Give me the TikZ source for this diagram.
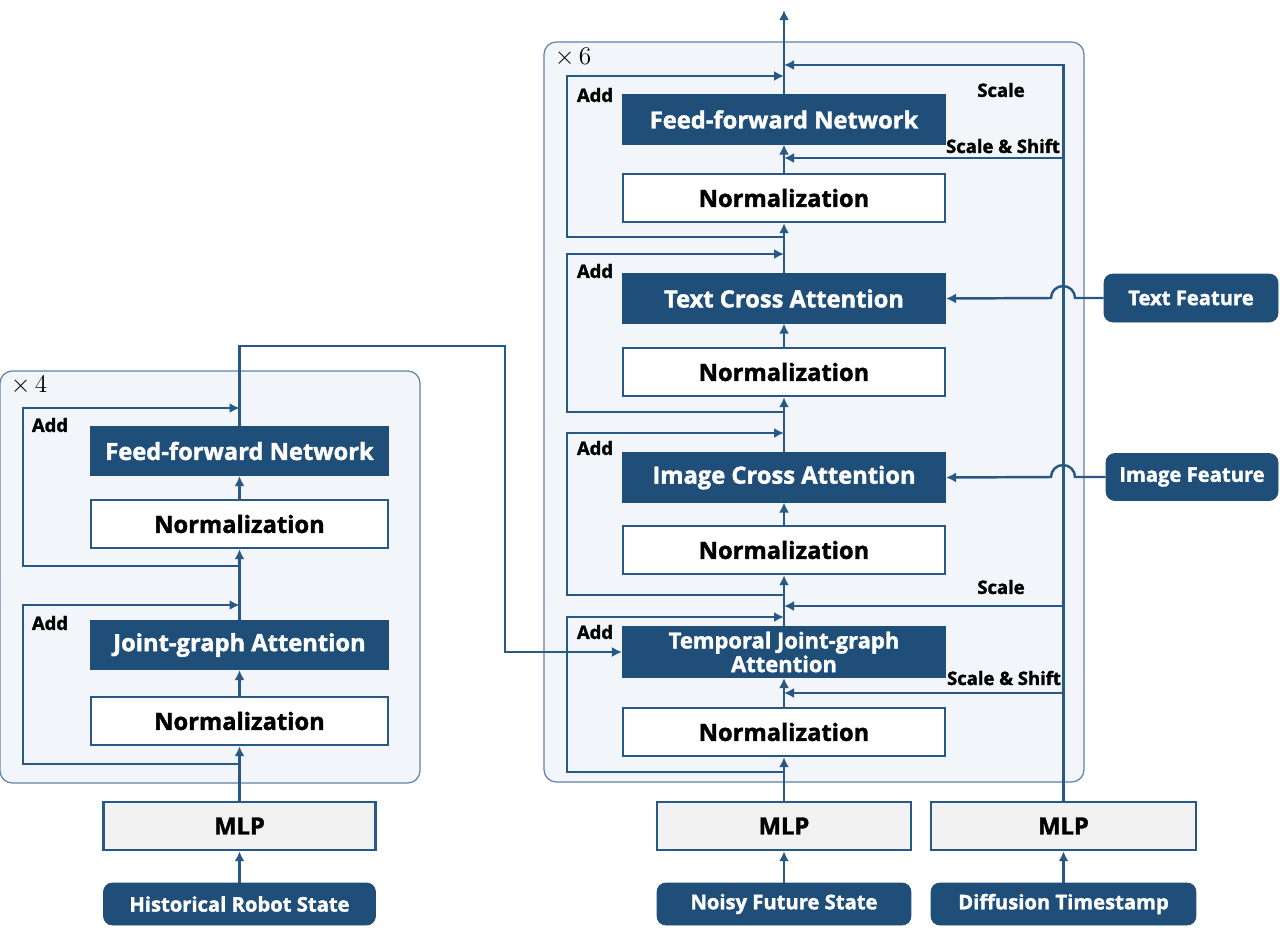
\documentclass[tikz,border=0pt]{standalone}
\usepackage{fontspec}
\setmainfont{Open Sans}[BoldFeatures={FakeBold=1.6}]
\usetikzlibrary{arrows.meta,positioning}
\definecolor{navy}{HTML}{1F4E79}
\definecolor{wirecol}{HTML}{285985}
\definecolor{panelfill}{HTML}{F2F5F9}
\definecolor{panelline}{HTML}{5F82A6}
\definecolor{mlpgray}{HTML}{F2F2F2}
\tikzset{
    wire/.style={draw=wirecol, line width=1.4pt},
    arr/.style={wire, -{Latex[length=2mm,width=2mm]}},
    darkbox/.style={draw=navy, fill=navy, text=white, line width=1.2pt, inner sep=0pt,
        minimum height=0.96cm, font=\bfseries\fontsize{13.5}{15}\selectfont},
    normbox/.style={draw=wirecol, fill=white, line width=1.4pt, inner sep=0pt,
        minimum height=0.96cm, font=\bfseries\fontsize{13.5}{15}\selectfont},
    mlpbox/.style={draw=wirecol, fill=mlpgray, line width=1.4pt, inner sep=0pt,
        minimum height=0.96cm, font=\bfseries\fontsize{13.5}{15}\selectfont},
    inbox/.style={draw=navy, fill=navy, text=white, rounded corners=5pt, inner sep=0pt,
        minimum height=0.84cm, font=\bfseries\fontsize{11.5}{13}\selectfont},
    panel/.style={draw=panelline, fill=panelfill, rounded corners=7pt, line width=0.7pt},
    tag/.style={inner sep=0pt, font=\bfseries\fontsize{10.5}{12}\selectfont},
    lw/.style={minimum width=5.94cm},
    rw/.style={minimum width=6.44cm}
}
\begin{document}
\begin{tikzpicture}[x=0.02cm, y=-0.02cm]
    \useasboundingbox (0,0) rectangle (1280,930);
    % containers
    \draw[panel] (0,371) rectangle (420,783);
    \draw[panel] (544,42) rectangle (1084,782);
    \node[font=\fontsize{14}{16}\selectfont] (rep4) at (29,385) {$\times\,4$};
    \node[font=\fontsize{14}{16}\selectfont] (rep6) at (573,57) {$\times\,6$};

    % left encoder
    \node[darkbox, lw] (lffn) at (239.5,451) {Feed-forward Network};
    \node[normbox, lw] (lnormb) at (239.5,524) {Normalization};
    \node[darkbox, lw] (ljga) at (239.5,645) {Joint-graph Attention};
    \node[normbox, lw] (lnorma) at (239.5,721) {Normalization};
    \node[mlpbox, minimum width=5.44cm] (lmlp) at (239.5,826) {MLP};
    \node[inbox, minimum width=5.44cm] (hist) at (239.5,904) {Historical Robot State};
    \node[tag] (laddb) at (50,425) {Add};
    \node[tag] (ladda) at (50,623) {Add};

    % right decoder
    \node[darkbox, rw] (ffn) at (784,119.5) {Feed-forward Network};
    \node[normbox, rw] (normd) at (784,198) {Normalization};
    \node[darkbox, rw] (tca) at (784,298.5) {Text Cross Attention};
    \node[normbox, rw] (normc) at (784,372) {Normalization};
    \node[darkbox, rw] (ica) at (784,477.5) {Image Cross Attention};
    \node[normbox, rw] (normb) at (784,550) {Normalization};
    \node[darkbox, rw, minimum height=1cm, align=center,
        font=\bfseries\fontsize{12.5}{13.5}\selectfont] (tjga) at (784,652) {Temporal Joint-graph\\Attention};
    \node[normbox, rw] (norma) at (784,732) {Normalization};
    \node[mlpbox, minimum width=5.08cm] (mmlp) at (784,826) {MLP};
    \node[inbox, minimum width=5.08cm] (noisy) at (784,904) {Noisy Future State};
    \node[mlpbox, minimum width=5.3cm] (tmlp) at (1063.5,826) {MLP};
    \node[inbox, minimum width=5.3cm] (diff) at (1063.5,904) {Diffusion Timestamp};
    \node[inbox, minimum width=3.48cm, minimum height=0.96cm] (textf) at (1191,298) {Text Feature};
    \node[inbox, minimum width=3.44cm, minimum height=0.94cm] (imgf) at (1192,477) {Image Feature};
    \node[tag] (addd) at (595,95) {Add};
    \node[tag] (addc) at (595,271) {Add};
    \node[tag] (addb) at (595,448) {Add};
    \node[tag] (adda) at (595,632) {Add};
    \node[tag] (scd) at (1001,90) {Scale};
    \node[tag] (ssd) at (1003,146) {Scale \& Shift};
    \node[tag] (sca) at (1001,587) {Scale};
    \node[tag] (ssa) at (1004,678) {Scale \& Shift};

    % left wiring
    \coordinate (lsa) at (239.5,764);
    \coordinate (lja) at (239.5,605);
    \coordinate (lsb) at (239.5,566);
    \coordinate (ljb) at (239.5,408);
    \draw[arr] (hist) -- (lmlp);
    \draw[arr] (lmlp) -- (lnorma);
    \draw[arr] (lnorma) -- (ljga);
    \draw[arr] (ljga) -- (lnormb);
    \draw[arr] (lnormb) -- (lffn);
    \draw[arr] (lsa) -- ++(-216.5,0) |- (lja);
    \draw[arr] (lsb) -- ++(-216.5,0) |- (ljb);
    \draw[arr] (lffn.north) -- ++(0,-80) -| (505,652) -- (tjga.west);

    % right wiring
    \coordinate (sa) at (784,772);
    \coordinate (ja) at (784,617);
    \coordinate (sb) at (784,595);
    \coordinate (jb) at (784,433);
    \coordinate (sc) at (784,412);
    \coordinate (jc) at (784,254);
    \coordinate (sd) at (784,237);
    \coordinate (jd) at (784,76);
    \coordinate (out) at (784,10);
    \coordinate (ssa1) at (784,693);
    \coordinate (sca1) at (784,606);
    \coordinate (ssd1) at (784,158);
    \coordinate (scd1) at (784,65);
    \coordinate (hopt) at (1075,298);
    \coordinate (hopi) at (1075,477);
    \draw[arr] (noisy) -- (mmlp);
    \draw[arr] (diff) -- (tmlp);
    \draw[arr] (mmlp) -- (norma);
    \draw[arr] (norma) -- (tjga);
    \draw[arr] (tjga) -- (normb);
    \draw[arr] (normb) -- (ica);
    \draw[arr] (ica) -- (normc);
    \draw[arr] (normc) -- (tca);
    \draw[arr] (tca) -- (normd);
    \draw[arr] (normd) -- (ffn);
    \draw[arr] (ffn) -- (out);
    \draw[arr] (sa) -- ++(-217,0) |- (ja);
    \draw[arr] (sb) -- ++(-217,0) |- (jb);
    \draw[arr] (sc) -- ++(-217,0) |- (jc);
    \draw[arr] (sd) -- ++(-217,0) |- (jd);
    \draw[arr] (tmlp.north) |- (scd1);
    \draw[arr] (tmlp.north |- ssd1) -- (ssd1);
    \draw[arr] (tmlp.north |- sca1) -- (sca1);
    \draw[arr] (tmlp.north |- ssa1) -- (ssa1);
    \draw[arr] (textf.west) -- (hopt) arc[start angle=0, end angle=180, radius=0.24cm] -- (tca.east);
    \draw[arr] (imgf.west) -- (hopi) arc[start angle=0, end angle=180, radius=0.24cm] -- (ica.east);
\end{tikzpicture}
\end{document}
